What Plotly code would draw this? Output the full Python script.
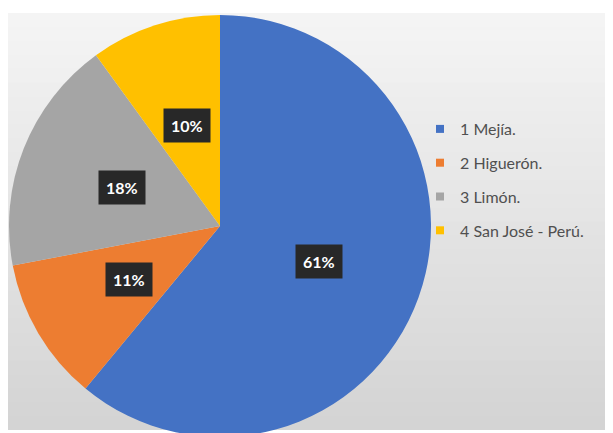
import math

import plotly.graph_objects as go

labels = ["1 Mejía.", "2 Higuerón.", "3 Limón.", "4 San José - Perú."]
values = [61, 11, 18, 10]
colors = ["#4472C4", "#ED7D31", "#A5A5A5", "#FFC000"]

# the page body adds an 8px margin, so the figure is drawn 8px in from the top-left
W, H = 605, 440
# pie placement in figure pixels (centre x, centre y from bottom, radius)
cx, cy, rad = 212, 222, 211

fig = go.Figure()
fig.add_trace(
    go.Pie(
        labels=labels,
        values=values,
        sort=False,
        direction="clockwise",
        rotation=0,
        marker={"colors": colors, "line": {"width": 0}},
        textinfo="none",
        hoverinfo="label+percent",
        showlegend=False,
        domain={"x": [(cx - rad) / W, (cx + rad) / W], "y": [(cy - rad) / H, (cy + rad) / H]},
    )
)

# legend entries (one group each so the gap between rows can be set)
for name, col in zip(labels, colors):
    fig.add_trace(
        go.Scatter(
            x=[None],
            y=[None],
            mode="markers",
            name=name,
            legendgroup=name,
            marker={"symbol": "square", "size": 8, "color": col},
        )
    )

# data labels: dark boxes at the middle of each slice
total = sum(values)
start = 0.0
for v in values:
    mid = (start + v / 2) / total * 2 * math.pi
    start += v
    px = cx + 0.5 * rad * math.sin(mid)
    py = cy + 0.5 * rad * math.cos(mid)
    fig.add_annotation(
        x=px / W,
        y=py / H,
        xref="paper",
        yref="paper",
        xanchor="center",
        yanchor="middle",
        text=f"<b>{round(v / total * 100)}%</b>",
        showarrow=False,
        font={"family": "Lato", "size": 16, "color": "white"},
        bgcolor="#282828",
        borderpad=7,
    )

# grey gradient background of the chart area (nested rects, lightest first)
n = 30
top, bottom = (244, 244, 244), (212, 212, 212)
y_lo, y_hi = 18 / H, 1 - 5 / H
for i in range(n):
    t = i / (n - 1)
    c = [round(top[k] + (bottom[k] - top[k]) * t) for k in range(3)]
    fig.add_shape(
        type="rect",
        xref="paper",
        yref="paper",
        x0=0,
        x1=1,
        y0=y_lo,
        y1=y_hi - i * (y_hi - y_lo) / n,
        fillcolor=f"rgb({c[0]},{c[1]},{c[2]})",
        line={"width": 0},
        layer="below",
    )

fig.update_layout(
    width=W,
    height=H,
    margin={"l": 0, "r": 0, "t": 0, "b": 0},
    paper_bgcolor="white",
    plot_bgcolor="rgba(0,0,0,0)",
    xaxis={"visible": False},
    yaxis={"visible": False},
    showlegend=True,
    legend={
        "x": 412 / W,
        "y": 1 - 172 / H,
        "xanchor": "left",
        "yanchor": "middle",
        "traceorder": "grouped",
        "tracegroupgap": 10,
        "itemwidth": 30,
        "font": {"family": "Lato", "size": 16, "color": "#505050"},
        "bgcolor": "rgba(0,0,0,0)",
    },
)

fig.write_html("out.html")
